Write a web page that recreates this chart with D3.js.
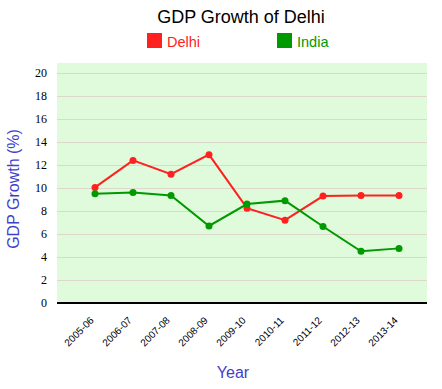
<!DOCTYPE html>
<html>
<head>
<meta charset="utf-8">
<script src="https://cdn.jsdelivr.net/npm/d3@7"></script>
<style>
  body { margin: 0; background: #fff; }
</style>
</head>
<body>
<div id="root"></div>
<script>
// Chart data
const years = ["2005-06", "2006-07", "2007-08", "2008-09", "2009-10", "2010-11", "2011-12", "2012-13", "2013-14"];
const delhiGrowth = [10.05, 12.4, 11.2, 12.9, 8.25, 7.2, 9.3, 9.35, 9.35];
const indiaGrowth = [9.5, 9.6, 9.35, 6.7, 8.6, 8.9, 6.65, 4.5, 4.75];
const yTicks = [0, 2, 4, 6, 8, 10, 12, 14, 16, 18, 20];

const seriesList = [
  { name: "Delhi", color: "#ff2020", values: delhiGrowth },
  { name: "India", color: "#009900", values: indiaGrowth },
];

// Set constants
const fullWidth = 442;
const fullHeight = 389;
const plot = { left: 57, right: 427, top: 63, bottom: 303 };

const svg = d3
  .select("#root")
  .append("svg")
  .attr("width", fullWidth)
  .attr("height", fullHeight);

// Scales
const xScale = d3.scalePoint().domain(years).range([95, 399]);
const yScale = d3.scaleLinear().domain([0, 20]).range([plot.bottom, 73]);

// Plot background
svg
  .append("rect")
  .attr("x", plot.left)
  .attr("y", plot.top)
  .attr("width", plot.right - plot.left)
  .attr("height", plot.bottom - plot.top)
  .attr("fill", "#e0fadc");

// Grid lines
svg
  .append("g")
  .selectAll("line")
  .data(yTicks.filter((d) => d > 0))
  .enter()
  .append("line")
  .attr("x1", plot.left)
  .attr("x2", plot.right)
  .attr("y1", (d) => Math.round(yScale(d)) + 0.5)
  .attr("y2", (d) => Math.round(yScale(d)) + 0.5)
  .attr("stroke", "#dcd8cc")
  .attr("stroke-width", 1);

// Y axis labels (no line)
const yAxis = d3.axisLeft(yScale).tickValues(yTicks).tickSize(0).tickPadding(0);
const yAxisG = svg.append("g").attr("transform", `translate(${plot.left - 10},0)`).call(yAxis);
yAxisG.select(".domain").remove();
yAxisG
  .selectAll("text")
  .style("font-family", "'Liberation Serif', 'Times New Roman', serif")
  .style("font-size", "12px")
  .attr("fill", "#000");

// X axis
const xAxis = d3.axisBottom(xScale).tickSize(0).tickPadding(0);
const xAxisG = svg.append("g").attr("transform", `translate(0,${plot.bottom})`).call(xAxis);
xAxisG.select(".domain").remove();
svg
  .append("line")
  .attr("x1", plot.left)
  .attr("x2", plot.right)
  .attr("y1", plot.bottom)
  .attr("y2", plot.bottom)
  .attr("stroke", "#000")
  .attr("stroke-width", 2);
xAxisG
  .selectAll("text")
  .style("font-family", "'Liberation Sans', Arial, sans-serif")
  .style("font-size", "10px")
  .attr("fill", "#000")
  .attr("text-anchor", "end")
  .attr("dy", 0)
  .attr("transform", "translate(-1,18) rotate(-45)");

// Lines and points
const line = d3
  .line()
  .x((d, i) => xScale(years[i]))
  .y((d) => yScale(d));

seriesList.forEach((s) => {
  svg
    .append("path")
    .datum(s.values)
    .attr("d", line)
    .attr("fill", "none")
    .attr("stroke", s.color)
    .attr("stroke-width", 2);

  svg
    .append("g")
    .selectAll("circle")
    .data(s.values)
    .enter()
    .append("circle")
    .attr("cx", (d, i) => xScale(years[i]))
    .attr("cy", (d) => yScale(d))
    .attr("r", 3.5)
    .attr("fill", s.color);
});

// Title
svg
  .append("text")
  .attr("x", 241)
  .attr("y", 23)
  .attr("text-anchor", "middle")
  .style("font-family", "'Liberation Sans', Arial, sans-serif")
  .style("font-size", "18px")
  .attr("fill", "#000")
  .text("GDP Growth of Delhi");

// Legend
const legendX = [147, 277];
seriesList.forEach((s, i) => {
  svg
    .append("rect")
    .attr("x", legendX[i])
    .attr("y", 33)
    .attr("width", 15)
    .attr("height", 15)
    .attr("fill", s.color);
  svg
    .append("text")
    .attr("x", legendX[i] + 20)
    .attr("y", 47)
    .style("font-family", "'Liberation Sans', Arial, sans-serif")
    .style("font-size", "14.5px")
    .attr("fill", s.color)
    .text(s.name);
});

// Axis titles
svg
  .append("text")
  .attr("text-anchor", "middle")
  .attr("transform", "translate(19,189) rotate(-90)")
  .style("font-family", "'Liberation Sans', Arial, sans-serif")
  .style("font-size", "16px")
  .attr("fill", "#3f3fcc")
  .text("GDP Growth (%)");

svg
  .append("text")
  .attr("x", 233)
  .attr("y", 378)
  .attr("text-anchor", "middle")
  .style("font-family", "'Liberation Sans', Arial, sans-serif")
  .style("font-size", "16px")
  .attr("fill", "#3f3fcc")
  .text("Year");
</script>
</body>
</html>
